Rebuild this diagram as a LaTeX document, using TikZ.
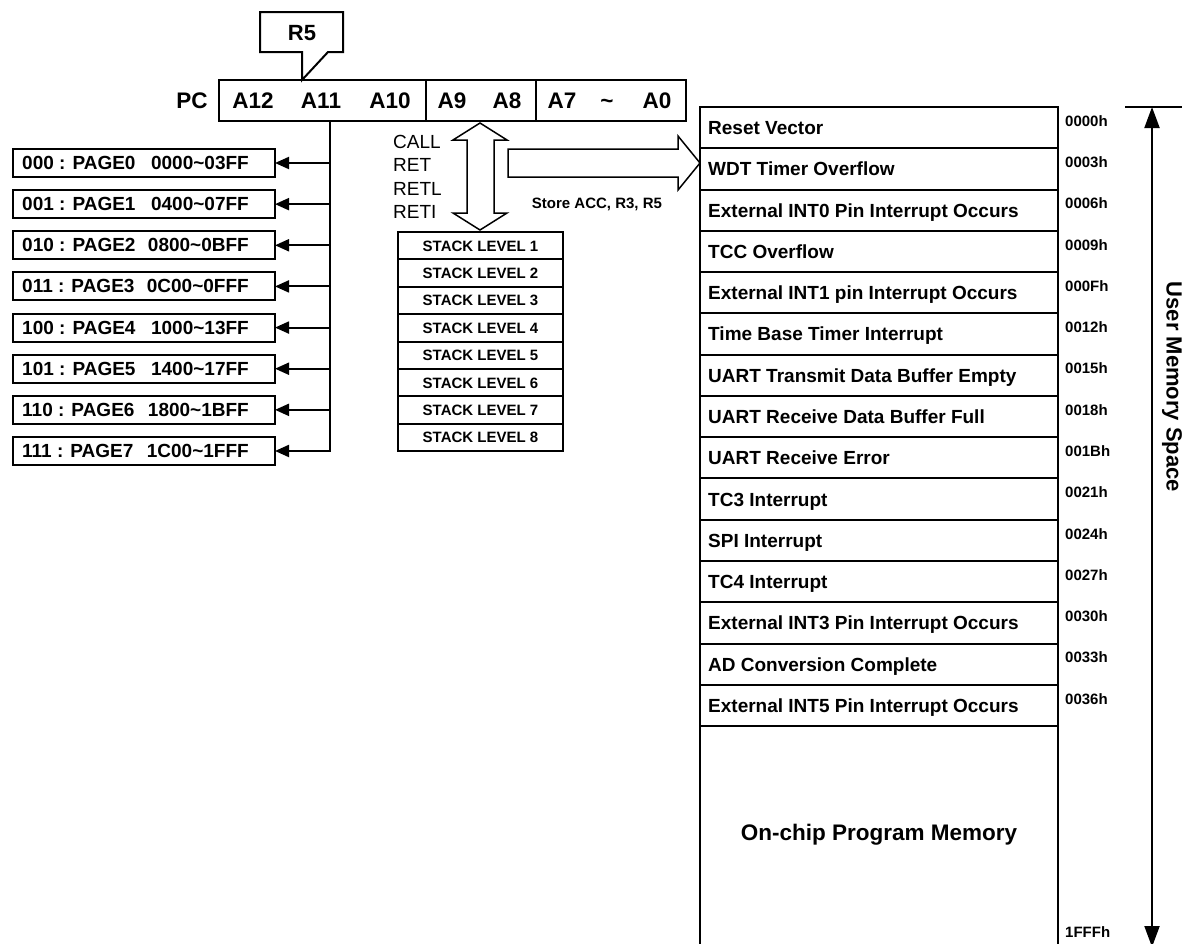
\documentclass[tikz,border=0pt]{standalone}
\usepackage{fontspec}
\setmainfont{Liberation Sans}
\usetikzlibrary{arrows.meta,calc}
\newcommand{\fs}[1]{\fontsize{#1}{#1}\selectfont}
\begin{document}
\begin{tikzpicture}[x=1pt,y=-1pt,
  box/.style={draw,line width=2,inner sep=0pt,outer sep=0pt},
  pagebox/.style={box,minimum width=262,minimum height=28},
  pagetxt/.style={inner sep=0pt,font=\fs{19}\bfseries},
  stackbox/.style={box,minimum width=165,minimum height=27.4,text height=12.7,text depth=2,font=\fs{15}\bfseries},
  memrow/.style={box,minimum width=358,minimum height=41.27,anchor=north west},
  memtxt/.style={inner sep=0pt,anchor=west,text height=18,text depth=4,font=\fs{19}\bfseries},
  addr/.style={inner sep=0pt,anchor=west,font=\fs{15}\bfseries},
  regtxt/.style={inner sep=0pt,font=\fs{22.5}\bfseries},
  cmdtxt/.style={inner sep=0pt,anchor=base west,font=\fs{19}},
  pagearrow/.style={line width=2,-{Triangle[length=14,width=12]}},
  hollow/.style={draw,line width=1.5,fill=white}
]
\useasboundingbox (0,0) rectangle (1193,943);

% R5 callout
\draw[line width=2] (260,12) -- (343,12) -- (343,52) -- (328,52) -- (302,80) -- (302,52) -- (260,52) -- cycle;
\node[regtxt,font=\fs{22}\bfseries] (r5) at (302,33) {R5};

% PC register
\node[box,minimum width=207,minimum height=41,anchor=north west] (reg1) at (219,80) {};
\node[box,minimum width=110,minimum height=41,anchor=north west] (reg2) at (426,80) {};
\node[box,minimum width=150,minimum height=41,anchor=north west] (reg3) at (536,80) {};
\node[regtxt] (pc) at (192,100.5) {PC};
\node[regtxt] (a12) at (253,100.5) {A12};
\node[regtxt] (a11) at (321,100.5) {A11};
\node[regtxt] (a10) at (390,100.5) {A10};
\node[regtxt] (a9) at (452,100.5) {A9};
\node[regtxt] (a8) at (507,100.5) {A8};
\node[regtxt] (a7) at (562,100.5) {A7};
\node[regtxt] (tl) at (607,104) {\char`\~};
\node[regtxt] (a0) at (657,100.5) {A0};

% page bus
\coordinate (bustop) at (330,121);
\coordinate (busbot) at (330,452);
\draw[line width=2] (bustop) -- (busbot);
\foreach \i/\a/\b in {0/000 : PAGE0/0000\char`\~03FF,1/001 : PAGE1/0400\char`\~07FF,2/010 : PAGE2/0800\char`\~0BFF,3/011 : PAGE3/0C00\char`\~0FFF,4/100 : PAGE4/1000\char`\~13FF,5/101 : PAGE5/1400\char`\~17FF,6/110 : PAGE6/1800\char`\~1BFF,7/111 : PAGE7/1C00\char`\~1FFF}{
  \pgfmathsetmacro{\yc}{163+41.14*\i}
  \node[pagebox] (pg\i) at (144,\yc) {};
  \node[pagetxt,anchor=west] (pga\i) at (22,\yc) {\a};
  \node[pagetxt,anchor=east] (pgb\i) at (249,\yc) {\b};
  \coordinate (bus\i) at (330,\yc);
  \draw[pagearrow] (bus\i) -- (pg\i.east);
}

% command labels
\node[cmdtxt] (call) at (393,148) {CALL};
\node[cmdtxt] (ret) at (393,171) {RET};
\node[cmdtxt] (retl) at (393,195) {RETL};
\node[cmdtxt] (reti) at (393,218) {RETI};

% stack
\foreach \i in {1,...,8}{
  \pgfmathsetmacro{\yc}{232+27.4*(\i-0.5)}
  \node[stackbox] (st\i) at (480.5,\yc) {STACK LEVEL \i};
}

% hollow double arrow
\path[hollow] (480,123) -- (453,140) -- (467,140) -- (467,213) -- (453,213) -- (480,230) -- (507,213) -- (494,213) -- (494,140) -- (507,140) -- cycle;
% hollow right arrow
\path[hollow] (508,149) -- (678,149) -- (678,136) -- (700,163) -- (678,190) -- (678,177) -- (508,177) -- cycle;
\node[inner sep=0pt,font=\fs{15}\bfseries] (store) at (597,204) {Store ACC, R3, R5};

% memory map
\foreach \i/\t/\ad in {1/Reset Vector/0000h,2/WDT Timer Overflow/0003h,3/External INT0 Pin Interrupt Occurs/0006h,4/TCC Overflow/0009h,5/External INT1 pin Interrupt Occurs/000Fh,6/Time Base Timer Interrupt/0012h,7/UART Transmit Data Buffer Empty/0015h,8/UART Receive Data Buffer Full/0018h,9/UART Receive Error/001Bh,10/TC3 Interrupt/0021h,11/SPI Interrupt/0024h,12/TC4 Interrupt/0027h,13/External INT3 Pin Interrupt Occurs/0030h,14/AD Conversion Complete/0033h,15/External INT5 Pin Interrupt Occurs/0036h}{
  \pgfmathsetmacro{\yt}{107+41.27*(\i-1)}
  \node[memrow] (m\i) at (700,\yt) {};
  \node[memtxt] (mt\i) at ([xshift=8pt]m\i.west) {\t};
  \node[addr] (ad\i) at (1065,\yt+14) {\ad};
}
\coordinate (botl) at (700,960);
\coordinate (botr) at (1058,960);
\draw[line width=2] (m15.south west) -- (botl);
\draw[line width=2] (m15.south east) -- (botr);
\node[inner sep=0pt,font=\fs{22.5}\bfseries] (onchip) at (879,835) {On-chip Program Memory};
\node[addr] (adend) at (1065,932) {1FFFh};

% user memory space arrow
\coordinate (tickl) at (1125,107);
\coordinate (tickr) at (1182,107);
\draw[line width=2] (tickl) -- (tickr);
\coordinate (uatop) at (1152,107);
\coordinate (uabot) at (1152,947);
\draw[line width=2,{Triangle[length=21,width=15]}-{Triangle[length=21,width=15]}] (uatop) -- (uabot);
\node[inner sep=0pt,rotate=-90,font=\fs{22}\bfseries] (ums) at (1172,387) {User Memory Space};
\end{tikzpicture}
\end{document}
